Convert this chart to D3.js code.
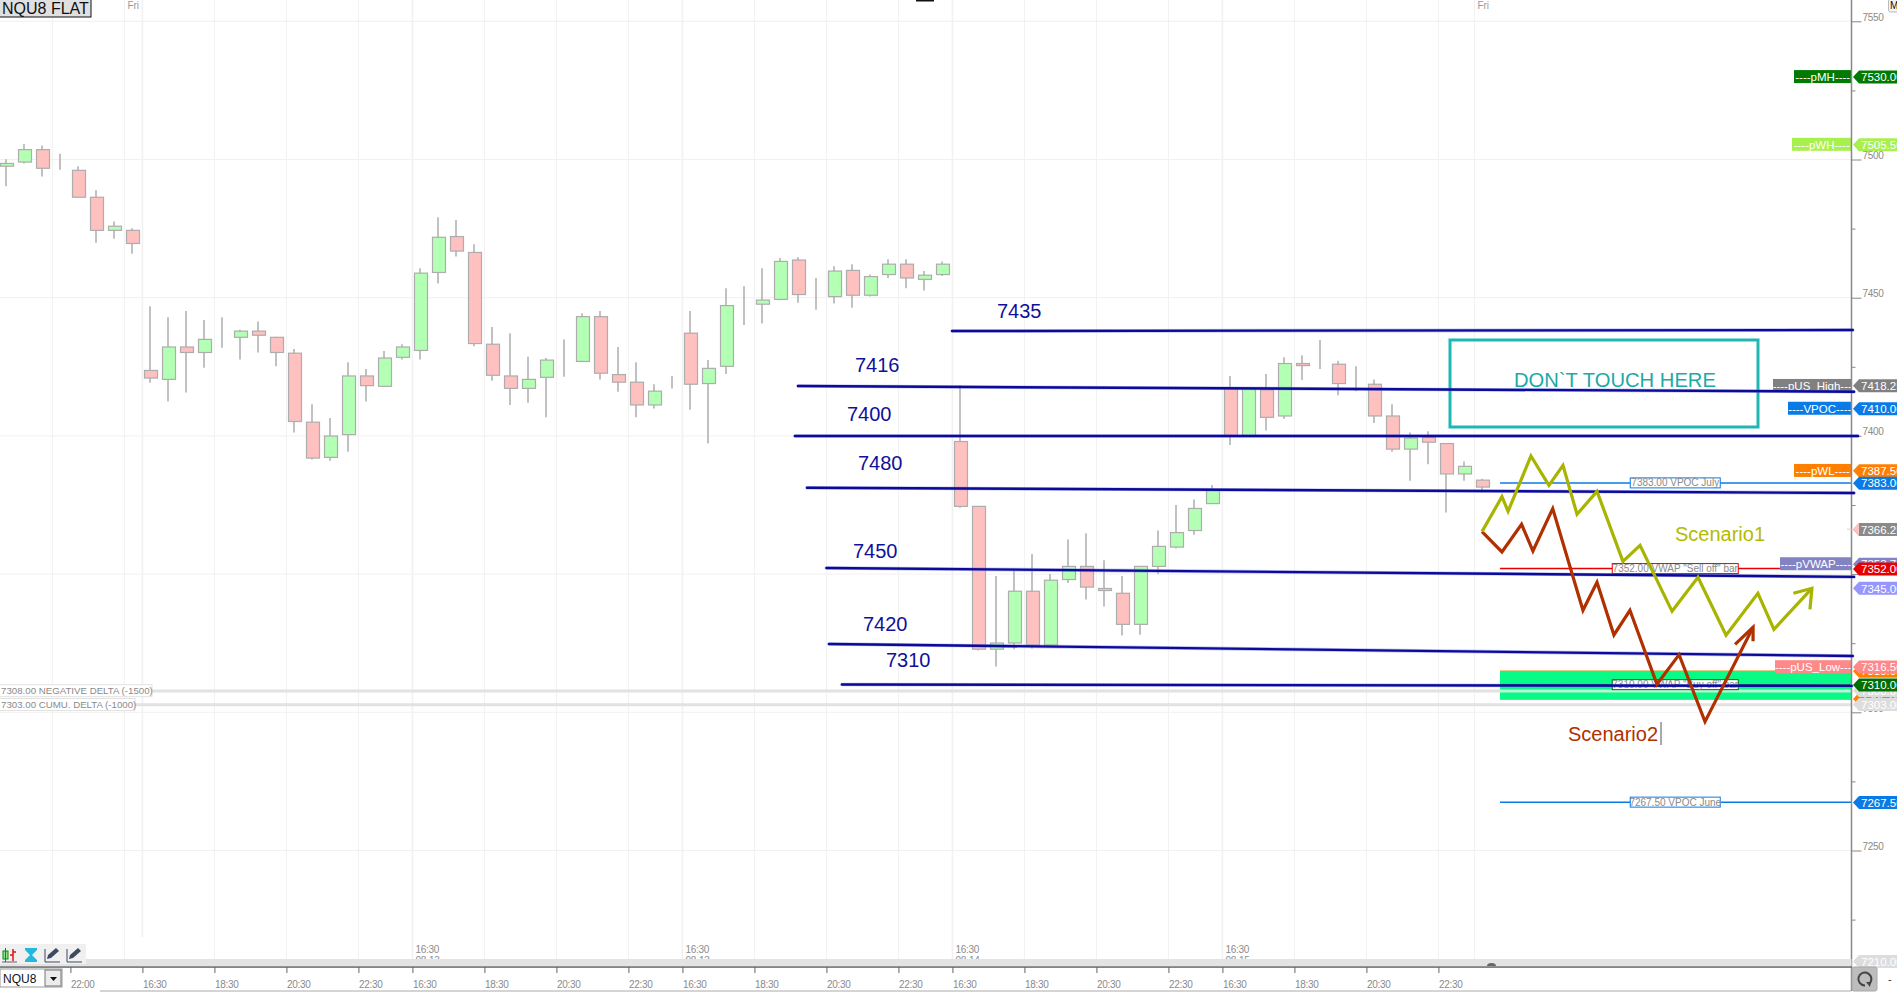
<!DOCTYPE html>
<html>
<head>
<meta charset="utf-8">
<title>NQU8</title>
<script src="https://cdn.jsdelivr.net/npm/d3@7"></script>
<style>
  html, body { margin: 0; padding: 0; background: #fff; overflow: hidden; }
  text { font-family: "Liberation Sans", Arial, sans-serif; }
</style>
</head>
<body>
<div id="chart"></div>
<script>
// candles (price units)
var opens = [7497.5,7499,7503.5,7496.25,7496,7486.25,7474.25,7474.25,7423.5,7420.25,7432,7430,7435.5,7435.5,7437.75,7435.5,7429.75,7404.75,7392,7400.25,7421.5,7417.75,7428.25,7430.75,7459,7472,7466.25,7433,7421.5,7417,7421,7427,7426.75,7443,7422,7419.25,7411,7418,7437,7418.75,7425,7446.75,7447.5,7449.25,7463.5,7450.75,7450.25,7459.75,7450.75,7458.25,7462,7456.5,7458.25,7397.75,7374.25,7322.5,7324.75,7343.5,7324,7347.75,7352.5,7344.5,7342.75,7331.5,7352.5,7359.5,7365.5,7375.25,7417,7399.75,7416.5,7407,7426,7425.25,7425.75,7418.75,7418.5,7407,7395,7399.25,7397,7386,7383.75];
var highs = [7500,7505.5,7505,7502,7497.5,7488.75,7477.5,7475,7446.75,7442.75,7445,7441.75,7442.75,7438.25,7441.25,7435.75,7431.25,7411.25,7406.25,7426.5,7424,7430.5,7433,7460.5,7479,7478,7469.25,7439.25,7437,7428.5,7428,7434.75,7444.25,7445,7432,7426.5,7418.5,7421.5,7445,7427.25,7453.25,7454,7460.5,7464.25,7464.5,7457,7461.25,7462,7458.25,7463.75,7463.75,7459.5,7463,7418.25,7374.25,7349,7351,7357,7349.75,7362.25,7364.5,7354.75,7349,7352.5,7365.5,7374.75,7376.75,7382,7421.5,7417,7422.25,7428.25,7429,7434.5,7427,7425,7420.25,7411.25,7401,7401.5,7397,7390.5,7384.25];
var lows = [7490.25,7498.5,7493.75,7496.25,7486.25,7469.75,7471.25,7465.75,7419,7412.25,7415.5,7424.5,7431.75,7427.5,7430,7425,7401,7391.25,7390.75,7394,7412.25,7417.5,7427.5,7427.5,7455,7464.75,7432.25,7419.75,7411,7411.75,7406.5,7421.25,7426.75,7420.25,7415.75,7406.5,7409.75,7417,7409.25,7397,7422.25,7440,7440.5,7449.25,7448,7445.5,7447.75,7446.25,7450.25,7457,7453.25,7452.5,7457.75,7373.75,7322,7316.25,7322.5,7322.75,7324,7346.5,7340.5,7338,7327.5,7327.75,7349.75,7359,7364,7375.25,7396.5,7399.75,7401.75,7406,7420,7424,7414.5,7416,7404.5,7394,7383.5,7389.5,7372,7383.5,7379.25];
var closes = [7498.5,7503.5,7496.75,7496.25,7486.25,7474.25,7475.75,7469.5,7420.75,7432,7430,7434.75,7435.5,7437.75,7436.25,7430,7405,7391.75,7399.75,7421.5,7418,7428,7432,7458.75,7471.75,7466.75,7433.25,7421.75,7417,7420.25,7427.25,7427,7443,7422.5,7419.25,7411,7416,7418,7418.5,7424.25,7447,7446.75,7449,7463,7451,7450.75,7459.5,7450.75,7457.5,7462,7457,7458,7462,7374.25,7322.5,7324.75,7343.5,7324,7347.5,7352.5,7345,7343.75,7331.5,7352.5,7359.75,7364.75,7373.5,7380,7399.75,7417,7406.5,7426,7425.25,7425.25,7418.75,7418.75,7407,7395,7399,7397.5,7386,7388.75,7381.25];

// time axis, positions are bar numbers
var tickBars = [3.54,7.54,11.54,15.54,19.54,22.54,26.54,30.54,34.54,37.54,41.54,45.54,49.54,52.54,56.54,60.54,64.54,67.54,71.54,75.54,79.54];
var tickLabels = ["22:00","16:30","18:30","20:30","22:30","16:30","18:30","20:30","22:30","16:30","18:30","20:30","22:30","16:30","18:30","20:30","22:30","16:30","18:30","20:30","22:30"];
var gridBars = [2.54,6.54,11.54,15.54,19.54,26.54,30.54,34.54,41.54,45.54,49.54,56.54,60.54,64.54,71.54,75.54,79.54,81.54];
var sessionBars = [22.54,37.54,52.54,67.54];
var sessionDates = ["08-13","08-13","08-14","08-15"];
var friBars = [6.54,81.54];

// price axis
var majorPrices = [7550,7500,7450,7400,7350,7300,7250];
var minorPrices = [7525,7475,7425,7375,7325,7275,7225];

// hand drawn levels
var levelNames = ["7435","7416","7400","7480","7450","7420","7310"];
var levelStartBar = [52.52,43.96,43.79,44.46,45.54,45.68,46.4];
var levelEndBar = [102.56,102.63,102.85,102.63,102.63,102.56,102.5];
var levelStartPrice = [7437.79,7417.86,7399.75,7381.02,7351.92,7324.4,7309.7];
var levelEndPrice = [7438.15,7415.8,7399.75,7379.1,7348.7,7320.04,7309.2];

// scenario paths
var scenario1Bars = [81.96,83.07,83.41,84.68,85.68,86.46,87.24,88.35,89.79,90.74,92.52,93.96,95.52,97.29,98.18,100.29];
var scenario1Prices = [7365.09,7377.77,7372.46,7392.5,7381.88,7389.12,7371.37,7379.7,7354.34,7360.14,7336.22,7348.54,7327.53,7342.75,7329.7,7344.56];
var scenario1HeadBars = [99.26,100.29,100.18];
var scenario1HeadPrices = [7342.75,7344.56,7336.95];
var scenario2Bars = [81.96,83.07,84.16,84.79,85.89,87.57,88.35,89.29,90.18,91.68,92.91,94.35,97.02];
var scenario2Prices = [7365.09,7357.72,7367.75,7358.08,7373.42,7336.59,7346.73,7327.65,7336.59,7309.78,7320.52,7296.25,7330.43];
var scenario2HeadBars = [96.02,97.02,97.02];
var scenario2HeadPrices = [7324.27,7330.43,7325.35];

// price tags on the right axis
var tagPrices = [7530,7505.5,7418.25,7410,7387.5,7383,7366.25,7353.75,7352,7345,7316.5,7315,7310,7308,7305,7303,7267.5,7210];
var tagTexts = ["7530.00","7505.50","7418.25","7410.00","7387.50","7383.00","7366.25","7353.75","7352.00","7345.00","7316.50","7315.00","7310.00","7308.00","7305.00","7303.00","7267.50","7210.00"];
var tagColors = ["#007a00","#a8f04e","#808080","#0a7be6","#ff8000","#0a7be6","#8a8a8a","#8383c4","#e60000","#9696ff","#ff8888","#ff8000","#006e00","#dddddd","#ff8000","#dddddd","#0a7be6","#dddddd"];
var tagOrder = [0,1,2,3,4,5,6,7,8,9,11,10,14,13,12,15,16,17];
var flagPrices = [7530,7505.5,7418.25,7410,7387.5,7353.75,7316.5];
var flagTexts = ["----pMH----","----pWH----","----pUS_High---","----VPOC----","----pWL----","----pVWAP----","----pUS_Low---"];
var flagColors = ["#007a00","#a8f04e","#808080","#0a7be6","#ff8000","#8383c4","#ff8888"];
var flagStarts = [1794,1792,1773,1788,1794,1780,1775];

// study lines
var studyPrices = [7383,7352,7310,7267.5];
var studyTexts = ["7383.00 VPOC July",'7352.00 VWAP "Sell off" bar','7310.00 VWAP "Buy off" bar',"7267.50 VPOC June"];
var studyColors = ["#0a7be6","#e60000","#006e00","#0a7be6"];
var studyBoxWidths = [90,126,126,90];
var zonePrices = [7315,7305];
var deltaPrices = [7308,7303];
var deltaTexts = ["7308.00 NEGATIVE DELTA (-1500)","7303.00 CUMU. DELTA (-1000)"];
var deltaBoxWidths = [153,136];

var width = 1897;
var height = 993;
var axisX = 1851.5;
var studyStart = 1500;

var svg = d3.select("#chart").append("svg").attr("width", width).attr("height", height).style("display", "block");

var x = d3.scaleLinear().domain([0, 100]).range([6.7, 1806.7]);
var y = d3.scaleLinear().domain([7550, 7200]).range([21.3, 988.7]);
// bars and drawings were read against this slightly shorter ruler
var yRead = d3.scaleLinear().domain([7550, 7200]).range([21.3, 987.3]);

// grid
svg.selectAll(".hgrid").data(majorPrices).enter().append("line")
  .attr("x1", 0).attr("x2", axisX).attr("y1", (d) => y(d)).attr("y2", (d) => y(d))
  .attr("stroke", "#f1f1f1").attr("stroke-width", 1);
svg.selectAll(".vgrid").data(gridBars).enter().append("line")
  .attr("x1", (d) => x(d)).attr("x2", (d) => x(d)).attr("y1", 0).attr("y2", 960)
  .attr("stroke", "#f1f1f1").attr("stroke-width", 1);
svg.selectAll(".vsession").data(sessionBars).enter().append("line")
  .attr("x1", (d) => x(d)).attr("x2", (d) => x(d)).attr("y1", 0).attr("y2", 960)
  .attr("stroke", "#f1f1f1").attr("stroke-width", 1.6);
svg.append("line").attr("x1", x(7.54)).attr("x2", x(7.54)).attr("y1", 0).attr("y2", 937)
  .attr("stroke", "#f1f1f1").attr("stroke-width", 1.6);

// date labels above the band, second line is cut by it
svg.selectAll(".sess").data(sessionBars).enter().append("text")
  .attr("x", (d) => x(d) + 3).attr("y", 953).attr("font-size", 10).attr("letter-spacing", -0.3).attr("fill", "#8c8c8c").text("16:30");
svg.selectAll(".sessd").data(sessionBars).enter().append("text")
  .attr("x", (d) => x(d) + 3).attr("y", 963.5).attr("font-size", 10).attr("letter-spacing", -0.3).attr("fill", "#8c8c8c").text((d, i) => sessionDates[i]);
svg.selectAll(".fri").data(friBars).enter().append("text")
  .attr("x", (d) => x(d) + 3).attr("y", 9).attr("font-size", 10).attr("fill", "#999").text("Fri");

// delta lines and boxes
deltaPrices.forEach((p, i) => {
  svg.append("line").attr("x1", 0).attr("x2", axisX).attr("y1", y(p) + 0.7).attr("y2", y(p) + 0.7)
    .attr("stroke", "#e2e2e2").attr("stroke-width", 3);
  svg.append("rect").attr("x", -1).attr("y", y(p) - 5.5).attr("width", deltaBoxWidths[i]).attr("height", 12)
    .attr("fill", "#fff").attr("stroke", "#e2e2e2");
  svg.append("text").attr("x", 1).attr("y", y(p) + 4).attr("font-size", 9.7).attr("fill", "#8a8a8a").text(deltaTexts[i]);
});

// candles
var candles = opens.map((o, i) => ({ i: i, o: o, h: highs[i], l: lows[i], c: closes[i] }));
svg.selectAll(".wick").data(candles).enter().append("line")
  .attr("x1", (d) => x(d.i) - 0.7).attr("x2", (d) => x(d.i) - 0.7)
  .attr("y1", (d) => yRead(d.h)).attr("y2", (d) => yRead(d.l))
  .attr("stroke", "#adadad").attr("stroke-width", 1.5);
svg.selectAll(".body").data(candles).enter().append("rect")
  .attr("x", (d) => x(d.i) - 6.2).attr("width", 13)
  .attr("y", (d) => yRead(Math.max(d.o, d.c)))
  .attr("height", (d) => Math.abs(yRead(d.o) - yRead(d.c)))
  .attr("fill", (d) => (d.c > d.o ? "#b3ffb3" : "#ffc0c0"))
  .attr("stroke", "#adadad").attr("stroke-width", 1.2);

// green zone
svg.append("rect").attr("x", studyStart).attr("width", axisX - studyStart)
  .attr("y", y(zonePrices[0])).attr("height", y(zonePrices[1]) - y(zonePrices[0]) + 1)
  .attr("fill", "#08fb86");
zonePrices.forEach((p, i) => {
  svg.append("line").attr("x1", studyStart).attr("x2", axisX).attr("y1", y(p) + i).attr("y2", y(p) + i)
    .attr("stroke", "#f09a30").attr("stroke-width", 0.8);
});
svg.append("line").attr("x1", studyStart).attr("x2", axisX).attr("y1", y(deltaPrices[0]) + 0.7).attr("y2", y(deltaPrices[0]) + 0.7)
  .attr("stroke", "#e8f4ee").attr("stroke-width", 3).attr("opacity", 0.8);

// study lines with their boxes
studyPrices.forEach((p, i) => {
  var mid = studyStart + (axisX - studyStart) * 0.5 - 0.5;
  svg.append("line").attr("x1", studyStart).attr("x2", axisX).attr("y1", y(p)).attr("y2", y(p))
    .attr("stroke", studyColors[i]).attr("stroke-width", 1.5);
  svg.append("rect").attr("x", mid - studyBoxWidths[i] / 2).attr("y", y(p) - 5).attr("width", studyBoxWidths[i]).attr("height", 10)
    .attr("fill", "#fff").attr("stroke", studyColors[i]).attr("stroke-width", 1);
  svg.append("text").attr("x", mid).attr("y", y(p) + 3.5).attr("text-anchor", "middle").attr("font-size", 10)
    .attr("fill", "#8a8a8a").text(studyTexts[i]);
});

// flags left of the axis
flagPrices.forEach((p, i) => {
  svg.append("rect").attr("x", flagStarts[i]).attr("y", y(p) - 6.5).attr("width", axisX - flagStarts[i]).attr("height", 13)
    .attr("fill", flagColors[i]);
  svg.append("text").attr("x", (flagStarts[i] + axisX) / 2).attr("y", y(p) + 4.3).attr("text-anchor", "middle")
    .attr("font-size", 11.5).attr("fill", "#fff").text(flagTexts[i]);
});

// axes
var yMinor = d3.axisRight(y).tickValues(minorPrices).tickSize(4).tickFormat("");
svg.append("g").attr("transform", "translate(" + axisX + ",0)").call(yMinor)
  .call((g) => g.select(".domain").remove())
  .call((g) => g.selectAll("line").attr("stroke", "#888"));
var yMajor = d3.axisRight(y).tickValues(majorPrices).tickSize(10).tickPadding(1).tickFormat(d3.format("d"));
svg.append("g").attr("transform", "translate(" + axisX + ",0)").call(yMajor)
  .call((g) => g.select(".domain").remove())
  .call((g) => g.selectAll("line").attr("stroke", "#888"))
  .call((g) => g.selectAll("text").attr("dy", "-0.1em").attr("font-size", 10).attr("letter-spacing", -0.3).attr("font-family", "Liberation Sans").attr("fill", "#8a8a8a"));
svg.append("line").attr("x1", axisX).attr("x2", axisX).attr("y1", 0).attr("y2", 991)
  .attr("stroke", "#888").attr("stroke-width", 1.5);

// value tags
tagOrder.forEach((k) => {
  var p = y(tagPrices[k]) + 0.4;
  svg.append("path")
    .attr("d", d3.line()([[1853, p], [1859, p - 6.5], [1898, p - 6.5], [1898, p + 6.5], [1859, p + 6.5]]) + "Z")
    .attr("fill", tagColors[k]);
  svg.append("text").attr("x", 1861).attr("y", p + 4.2).attr("font-size", 11.5).attr("fill", "#fff").text(tagTexts[k]);
});
svg.append("line").attr("x1", 1847).attr("x2", axisX).attr("y1", y(7366.25)).attr("y2", y(7366.25)).attr("stroke", "#ffc0c0").attr("stroke-width", 1);
svg.append("path").attr("d", d3.line()([[1853, y(7366.25)], [1859, y(7366.25) - 6.5], [1859, y(7366.25) + 6.5]]) + "Z").attr("fill", "#ffc0c0");

// teal box
var boxColor = "#1fb7b3";
svg.append("rect").attr("x", 1450).attr("y", 340).attr("width", 308).attr("height", 87)
  .attr("fill", "none").attr("stroke", boxColor).attr("stroke-width", 3);
svg.append("text").attr("x", 1514).attr("y", 386.5).attr("font-size", 20.2).attr("fill", "#1caaa6").text("DON`T TOUCH HERE");

// levels, a pale edge under a dark core
levelNames.forEach((n, i) => {
  [["#7a7ae8", 3.6, 0.5], ["#0b0b98", 2.4, 1]].forEach((s) => {
    svg.append("line")
      .attr("x1", x(levelStartBar[i])).attr("x2", x(levelEndBar[i]))
      .attr("y1", yRead(levelStartPrice[i])).attr("y2", yRead(levelEndPrice[i]))
      .attr("stroke", s[0]).attr("stroke-width", s[1]).attr("opacity", s[2]).attr("stroke-linecap", "round");
  });
});
var levelLabelX = [997, 855, 847, 858, 853, 863, 886];
var levelLabelY = [318, 372, 420.5, 470, 558, 631, 666.5];
levelNames.forEach((n, i) => {
  svg.append("text").attr("x", levelLabelX[i]).attr("y", levelLabelY[i]).attr("font-size", 20).attr("fill", "#10109a").text(n);
});

// scenarios
var pathLine = d3.line().x((d) => x(d[0])).y((d) => yRead(d[1]));
function drawScenario(bars, prices, headBars, headPrices, color) {
  svg.append("path").attr("d", pathLine(d3.zip(bars, prices))).attr("fill", "none")
    .attr("stroke", color).attr("stroke-width", 3.2).attr("stroke-linejoin", "miter");
  svg.append("path").attr("d", pathLine(d3.zip(headBars, headPrices))).attr("fill", "none")
    .attr("stroke", color).attr("stroke-width", 3.2);
}
drawScenario(scenario2Bars, scenario2Prices, scenario2HeadBars, scenario2HeadPrices, "#b03000");
drawScenario(scenario1Bars, scenario1Prices, scenario1HeadBars, scenario1HeadPrices, "#a8b400");
svg.append("text").attr("x", 1675).attr("y", 540.5).attr("font-size", 20).attr("fill", "#b4bb00").text("Scenario1");
svg.append("text").attr("x", 1568).attr("y", 741).attr("font-size", 20).attr("fill", "#b03000").text("Scenario2");
svg.append("line").attr("x1", 1661).attr("x2", 1661).attr("y1", 722).attr("y2", 745).attr("stroke", "#555").attr("stroke-width", 1);

// title box
svg.append("rect").attr("x", -1).attr("y", -1).attr("width", 92).attr("height", 18)
  .attr("fill", "#e0e0e0").attr("stroke", "#111").attr("stroke-width", 1);
svg.append("text").attr("x", 2).attr("y", 14).attr("font-size", 16).attr("fill", "#111").text("NQU8 FLAT");
svg.append("rect").attr("x", 916).attr("y", 0).attr("width", 18).attr("height", 1.5).attr("fill", "#111");
svg.append("rect").attr("x", 1888.5).attr("y", -1).attr("width", 10).attr("height", 13)
  .attr("fill", "#f4f4f4").attr("stroke", "#bbb").attr("rx", 2);
svg.append("text").attr("x", 1890).attr("y", 9).attr("font-size", 10).attr("fill", "#111").text("M");

// bottom band and time axis
svg.append("rect").attr("x", 0).attr("y", 959).attr("width", axisX).attr("height", 7).attr("fill", "#e3e3e3");
svg.append("rect").attr("x", 0).attr("y", 966.3).attr("width", axisX).attr("height", 1.5).attr("fill", "#666");
svg.append("path").attr("d", "M1487,966 a4.5,3 0 0 1 9,0 Z").attr("fill", "#666");
var xAxis = d3.axisBottom(x).tickValues(tickBars).tickSize(6).tickPadding(8).tickFormat((d, i) => tickLabels[i]);
svg.append("g").attr("transform", "translate(0,967)").call(xAxis)
  .call((g) => g.select(".domain").remove())
  .call((g) => g.selectAll("line").attr("stroke", "#666"))
  .call((g) => g.selectAll("text").attr("text-anchor", "start").attr("font-size", 10).attr("letter-spacing", -0.3).attr("font-family", "Liberation Sans").attr("fill", "#8a8a8a"));
svg.append("line").attr("x1", 100).attr("x2", 1851).attr("y1", 991).attr("y2", 991).attr("stroke", "#aaa");

// toolbar icons
svg.append("rect").attr("x", 0).attr("y", 944).attr("width", 86).attr("height", 20).attr("fill", "#f0f0f0");
svg.append("rect").attr("x", 3).attr("y", 951).attr("width", 5).attr("height", 8).attr("fill", "#8fe08f").attr("stroke", "#118811");
svg.append("line").attr("x1", 5.5).attr("x2", 5.5).attr("y1", 948).attr("y2", 962).attr("stroke", "#118811");
svg.append("line").attr("x1", 13).attr("x2", 13).attr("y1", 949).attr("y2", 961).attr("stroke", "#e01010").attr("stroke-width", 1.5);
svg.append("path").attr("d", "M10,955 h3 M13,952 h3").attr("stroke", "#e01010").attr("stroke-width", 1.5);
svg.append("line").attr("x1", 2).attr("x2", 17).attr("y1", 962).attr("y2", 962).attr("stroke", "#556070");
svg.append("path").attr("d", "M25,948 h12 v2 l-5,5 l5,5 v2 h-12 v-2 l5,-5 l-5,-5 Z").attr("fill", "#23b8dc");
[45, 67].forEach((px) => {
  svg.append("path").attr("d", "M" + (px + 2) + ",959 l1,-4 l8,-7 l3,3 l-8,7 Z").attr("fill", "#3c4a63");
  svg.append("line").attr("x1", px).attr("x2", px + 15).attr("y1", 962).attr("y2", 962).attr("stroke", "#3c4a63");
  svg.append("line").attr("x1", px).attr("x2", px).attr("y1", 949).attr("y2", 962).attr("stroke", "#3c4a63");
});

// symbol combo
svg.append("rect").attr("x", 0).attr("y", 969).attr("width", 62).attr("height", 18).attr("fill", "#fff").attr("stroke", "#999");
svg.append("rect").attr("x", 45).attr("y", 970).attr("width", 16).attr("height", 16).attr("fill", "#ececec").attr("stroke", "#777");
svg.append("path").attr("d", "M50,977 h7 l-3.5,4 Z").attr("fill", "#111");
svg.append("text").attr("x", 3).attr("y", 983).attr("font-size", 12).attr("fill", "#111").text("NQU8");

// refresh button
svg.append("rect").attr("x", 1852).attr("y", 967).attr("width", 25).attr("height", 24).attr("fill", "#bdbdbd").attr("stroke", "#a8a8a8").attr("rx", 2);
svg.append("path").attr("d", "M1869,984 a6.5,6.5 0 1 0 -4,1.5").attr("fill", "none").attr("stroke", "#444").attr("stroke-width", 2);
svg.append("path").attr("d", "M1866,982 l5,0 l-1,5 Z").attr("fill", "#444");
svg.append("text").attr("x", 1888).attr("y", 983).attr("font-size", 11).attr("fill", "#333").text("-");
</script>
</body>
</html>
